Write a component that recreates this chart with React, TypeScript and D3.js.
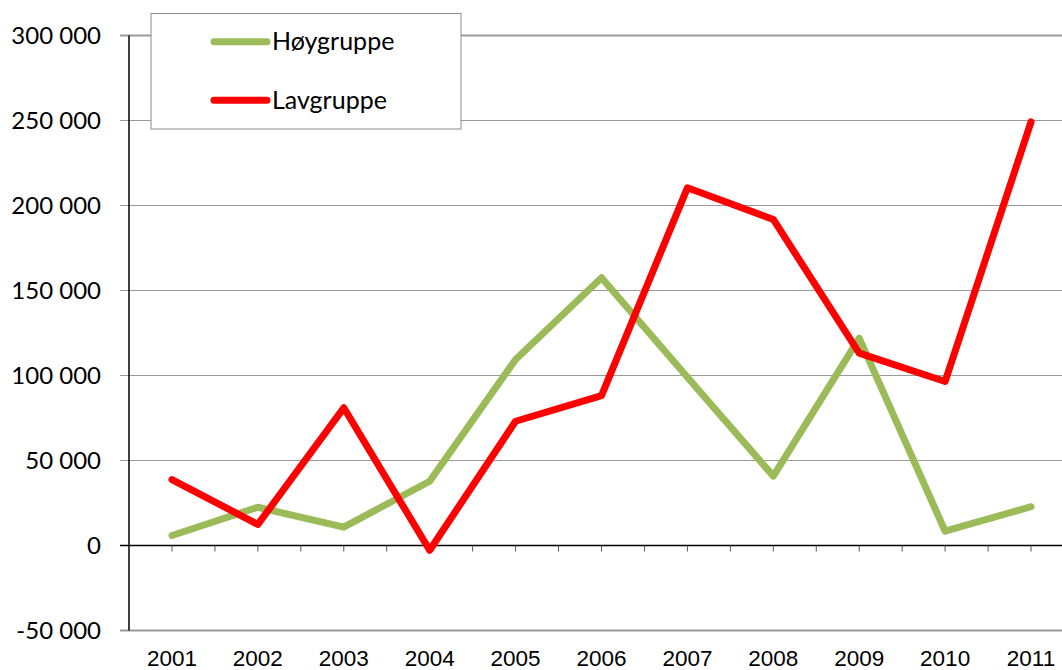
import React from "react";
import * as d3 from "d3";

const years = ["2001","2002","2003","2004","2005","2006","2007","2008","2009","2010","2011"];
const hoygruppe = [5900, 22500, 10800, 37800, 109400, 157500, 99000, 40800, 122000, 8400, 22800];
const lavgruppe = [38800, 12400, 81000, -2800, 73100, 88200, 210400, 191800, 113200, 96500, 249200];
const yTicks = [-50000, 0, 50000, 100000, 150000, 200000, 250000, 300000];
const seriesNames = ["Høygruppe", "Lavgruppe"];
const seriesColors = ["#9BBB59", "#FF0000"];

const W = 1062, H = 670;
const left = 129, right = 1074, top = 35.5, bottom = 630.5;

const fmt = (v: number) => {
  const s = d3.format(",")(v).replace(/,/g, " ");
  return s.replace("−", "-");
};

export default function App() {
  const x = d3.scaleBand<string>().domain(years).range([left, right]);
  const bw = x.bandwidth();
  const cx = (d: string) => (x(d) as number) + bw / 2;
  const y = d3.scaleLinear().domain([-50000, 300000]).range([bottom, top]);
  const line = d3.line<number>().x((_, i) => cx(years[i])).y((v) => y(v));
  const series = [hoygruppe, lavgruppe];

  const halfTicks: number[] = [];
  years.forEach((yr) => {
    halfTicks.push(cx(yr));
    halfTicks.push((x(yr) as number) + bw);
  });

  return (
    <svg width={W} height={H} style={{ position: "absolute", left: 0, top: 0, background: "#fff" }}>
      <rect x={0} y={0} width={W} height={H} fill="#fff" />
      {/* gridlines */}
      {yTicks.map((t) => (
        <line key={"g" + t} x1={left - 9} x2={W} y1={y(t)} y2={y(t)}
          stroke={t === 0 ? "none" : "#9a9a9a"} strokeWidth={t === 300000 || t === -50000 ? 2 : 1.2} />
      ))}
      {/* y tick labels */}
      {yTicks.map((t) => (
        <text key={"l" + t} x={101} y={y(t)} dy="0.36em" textAnchor="end"
          fontFamily="Lato" fontSize={24} fill="#000">{fmt(t)}</text>
      ))}
      {/* y axis */}
      <line x1={left} x2={left} y1={top} y2={bottom} stroke="#000" strokeWidth={1.5} />
      {/* x axis at zero */}
      <line x1={left - 9} x2={W} y1={y(0)} y2={y(0)} stroke="#000" strokeWidth={1.5} />
      {halfTicks.map((t, i) => (
        <line key={"t" + i} x1={t} x2={t} y1={y(0)} y2={y(0) + 6} stroke="#555" strokeWidth={1} />
      ))}
      {/* x labels */}
      {years.map((yr) => (
        <text key={yr} x={cx(yr)} y={665.5} textAnchor="middle"
          fontFamily="Liberation Sans, Arial" fontSize={22.5} fill="#000">{yr}</text>
      ))}
      {/* series */}
      {series.map((s, i) => (
        <path key={"s" + i} d={line(s) as string} fill="none" stroke={seriesColors[i]}
          strokeWidth={7} strokeLinejoin="round" strokeLinecap="round" />
      ))}
      {/* legend */}
      <rect x={151} y={13.5} width={310} height={115.5} fill="#fff" stroke="#8c8c8c" strokeWidth={1} />
      {seriesNames.map((n, i) => (
        <g key={n}>
          <line x1={214} x2={267} y1={41.7 + i * 58.5} y2={41.7 + i * 58.5}
            stroke={seriesColors[i]} strokeWidth={7} strokeLinecap="round" />
          <text x={272} y={50 + i * 58.5} fontFamily="Lato" fontSize={25} fill="#000">{n}</text>
        </g>
      ))}
    </svg>
  );
}
